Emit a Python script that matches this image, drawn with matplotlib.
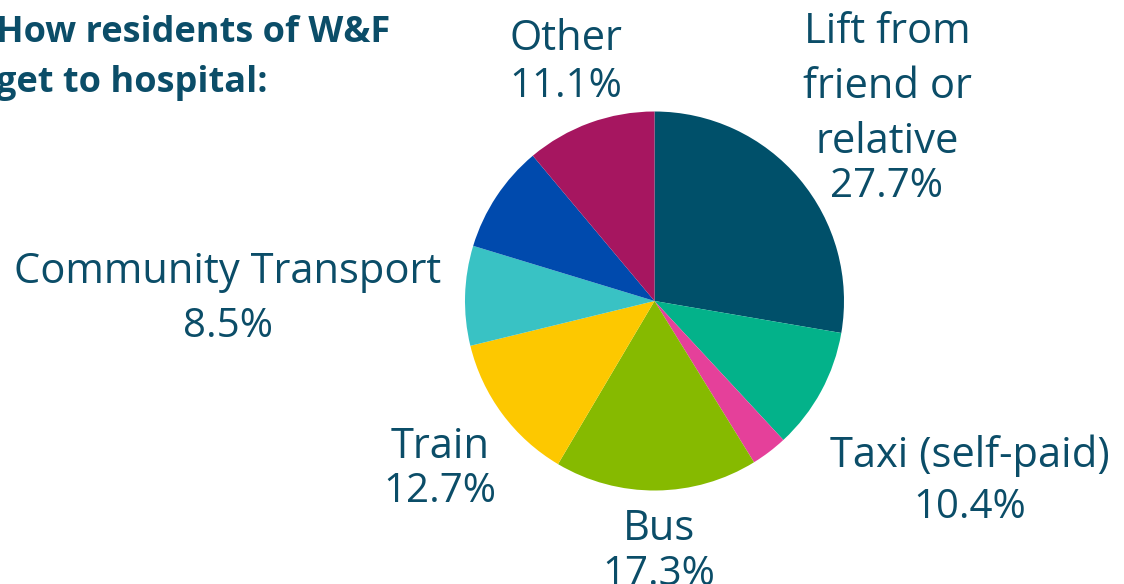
import matplotlib.pyplot as plt

# data (percent, clockwise from 12 o'clock)
categories = ["Lift from friend or relative", "Taxi (self-paid)", "unlabelled pink", "Bus",
              "Train", "Community Transport", "unlabelled blue", "Other"]
shares = [27.7, 10.4, 3.1, 17.3, 12.7, 8.5, 9.2, 11.1]
colors = ["#00506A", "#03B28A", "#E5409A", "#86BA00", "#FDC800", "#39C2C4", "#004AAD", "#A61660"]

label_lines = [["Lift from", "friend or", "relative"], ["Taxi (self-paid)"], None, ["Bus"],
               ["Train"], ["Community Transport"], None, ["Other"]]
pct_text = ["27.7%", "10.4%", None, "17.3%", "12.7%", "8.5%", None, "11.1%"]

txt_col = "#0B4D68"
font = "Open Sans"

W, H = 1124, 584
fig = plt.figure(figsize=(W / 100, H / 100), dpi=100)
ax = fig.add_axes([0, 0, 1, 1])

# pie, centre and radius in pixel units (y measured from bottom)
ax.pie(shares, colors=colors, startangle=90, counterclock=False,
       center=(654.5, H - 301), radius=189.5, frame=True,
       wedgeprops=dict(linewidth=0))
ax.set_xlim(0, W)
ax.set_ylim(0, H)
ax.set_aspect("equal")
ax.axis("off")

# label positions: x centre, baseline of first name line, baseline of percent (px from top)
pos = [(887, 43, 197), (970, 467, 518), None, (659, 540, 585),
       (440, 458, 502), (228, 283, 337), None, (566, 50, 97)]
line_gap = 55

for lines, pct, p in zip(label_lines, pct_text, pos):
    if p is None:
        continue
    x, yb, yp = p
    for i, ln in enumerate(lines):
        ax.text(x, H - (yb + i * line_gap), ln, ha="center", va="baseline", fontsize=30,
                family=font, color=txt_col)
    ax.text(x, H - yp, pct, ha="center", va="baseline", fontsize=29, family=font,
            color=txt_col)

# title, partly cut off on the left like the reference
ax.text(-4, H - 42, "How residents of W&F", ha="left", va="baseline", fontsize=26,
        family=font, fontweight="bold", color=txt_col)
ax.text(-4, H - 92, "get to hospital:", ha="left", va="baseline", fontsize=26,
        family=font, fontweight="bold", color=txt_col)

fig.savefig("out.png", dpi=100)
